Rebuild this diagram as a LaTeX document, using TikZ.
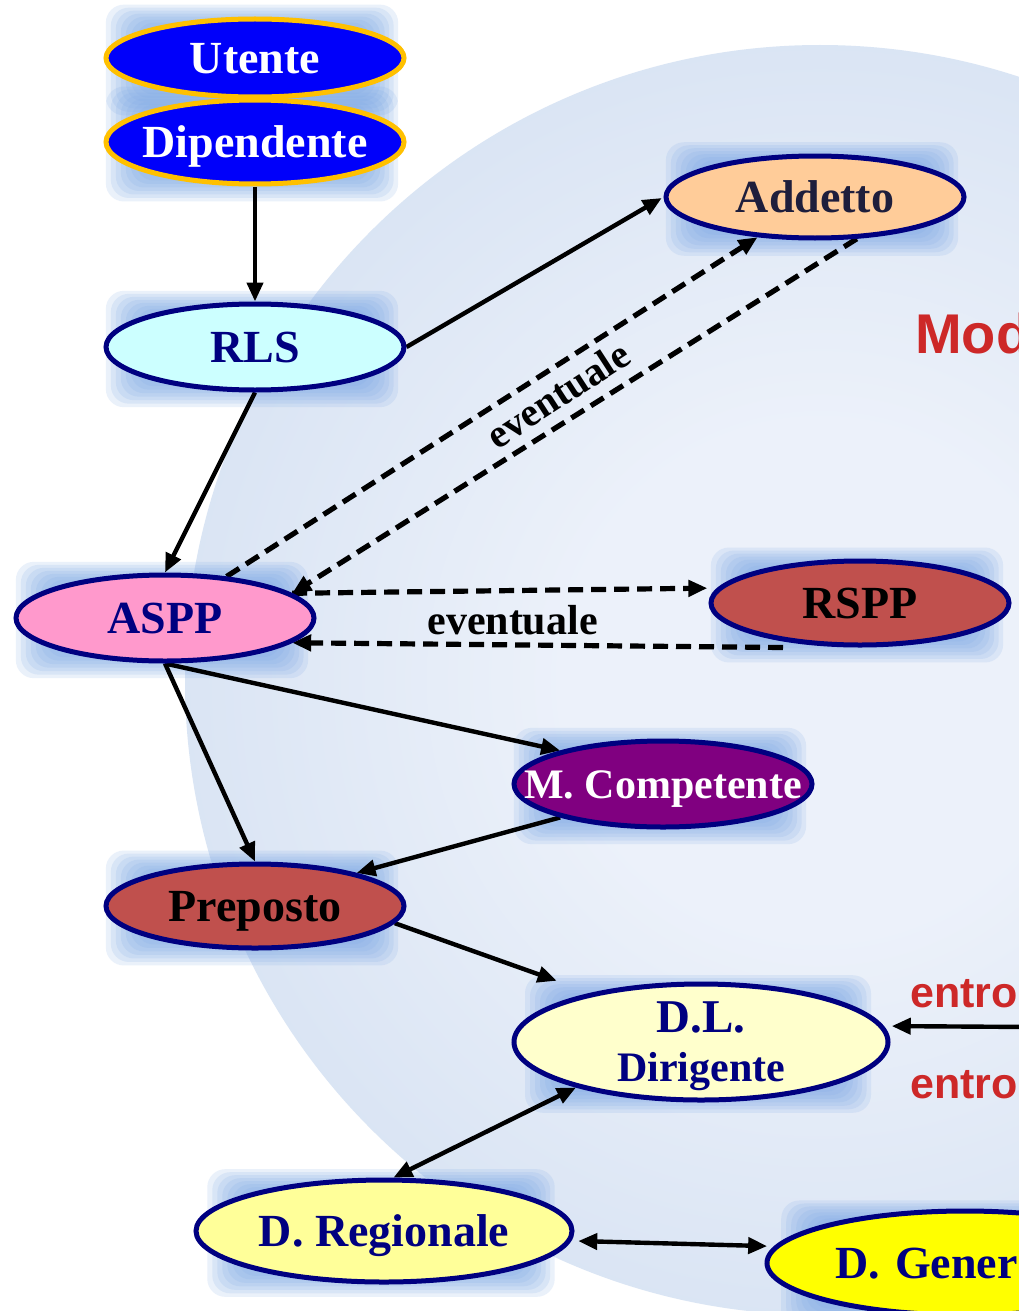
\documentclass[tikz,border=0pt]{standalone}
\usepackage{fontspec}
\setmainfont{Liberation Serif}
\newfontfamily\sansbold{Liberation Sans}
\usetikzlibrary{shapes.geometric,arrows.meta,calc}
\pgfdeclarelayer{bgl}\pgfdeclarelayer{glowl}\pgfdeclarelayer{edgel}
\pgfsetlayers{bgl,glowl,edgel,main}
\definecolor{navyb}{RGB}{0,0,128}
\definecolor{goldb}{RGB}{255,192,0}
\definecolor{utblue}{RGB}{0,0,250}
\definecolor{addfill}{RGB}{255,204,153}
\definecolor{addtext}{RGB}{30,30,60}
\definecolor{rlsfill}{RGB}{204,255,255}
\definecolor{asppfill}{RGB}{255,153,204}
\definecolor{rsppfill}{RGB}{192,80,77}
\definecolor{mcfill}{RGB}{128,0,128}
\definecolor{dlfill}{RGB}{255,255,204}
\definecolor{dregfill}{RGB}{255,255,153}
\definecolor{dgenfill}{RGB}{255,255,0}
\definecolor{glowc}{RGB}{125,168,230}
\definecolor{bgin}{RGB}{236,241,250}
\definecolor{bgmid}{RGB}{210,223,241}
\definecolor{bgout}{RGB}{194,212,237}
\definecolor{modred}{RGB}{205,40,40}
\pgfdeclareradialshading{bgcirc}{\pgfpoint{0bp}{0bp}}{color(0bp)=(bgin); color(10bp)=(bgin); color(32bp)=(bgmid); color(43bp)=(bgout); color(45bp)=(bgout); color(50bp)=(white)}
\newcommand\glowat[1]{%
  \foreach \k in {0,...,7}{%
    \fill[glowc,opacity=0.16,rounded corners=18pt]
      ($(#1.north west)+(-42+5*\k,-24+3*\k)$) rectangle ($(#1.south east)+(36-4.5*\k,28-3.5*\k)$);}}
\tikzset{
  base/.style={ellipse, draw=navyb, line width=5pt, inner sep=0pt, inner xsep=-45pt,
    minimum width=298pt, minimum height=84pt,
    font=\bfseries\fontsize{46}{50}\selectfont},
  one/.style={base, text height=31pt, text depth=0pt},
  arr/.style={-{Triangle[length=19pt,width=16pt]}, line width=4.4pt},
  barr/.style={{Triangle[length=19pt,width=16pt]}-{Triangle[length=19pt,width=16pt]}, line width=4.4pt},
  darr/.style={-{Triangle[length=19pt,width=16pt]}, line width=5.2pt, dash pattern=on 15pt off 8pt},
  lbl/.style={font=\bfseries\fontsize{42}{44}\selectfont, inner sep=0pt},
  redtxt/.style={text=modred, inner sep=0pt, anchor=base west},
}
\begin{document}
\begin{tikzpicture}[x=1pt,y=-1pt]
\useasboundingbox (0,0) rectangle (1019,1311);
\begin{pgfonlayer}{bgl}
  \fill[white] (0,0) rectangle (1019,1311);
  \shade[shading=bgcirc] (820,680) circle[radius=635];
\end{pgfonlayer}

% nodes
\node[one, draw=goldb, fill=utblue, text=white, minimum height=78pt] (Ut) at (255,58) {Utente};
\node[one, draw=goldb, fill=utblue, text=white] (Dip) at (255,142) {Dipendente};
\node[one, fill=addfill, text=addtext, minimum height=82pt] (Add) at (815,197) {Addetto};
\node[one, fill=rlsfill, text=navyb, minimum height=86pt] (RLS) at (255,347) {RLS};
\node[one, fill=asppfill, text=navyb, minimum height=86pt] (ASPP) at (165,618) {ASPP};
\node[one, fill=rsppfill, text=black] (RSPP) at (860,603) {RSPP};
\node[one, fill=mcfill, text=white, minimum height=86pt, text height=28pt,
      font=\bfseries\fontsize{42}{46}\selectfont] (MC) at (663,784) {M. Competente};
\node[one, fill=rsppfill, text=black] (Prep) at (255,906) {Preposto};
\node[base, fill=dlfill, text=navyb, minimum width=374pt, minimum height=116pt,
      align=center, text depth=-3pt] (DL) at (701,1042)
      {{\fontsize{47}{54}\selectfont D.L.}\\[-1pt]{\fontsize{42}{54}\selectfont Dirigente}};
\node[one, fill=dregfill, text=navyb, minimum width=376pt, minimum height=102pt] (DReg) at (384,1231) {D. Regionale};
\node[one, fill=dgenfill, text=navyb, minimum width=396pt, minimum height=104pt,
      text width=260pt, align=left] (DGen) at (965,1263) {D. Gener};

\node[redtxt, font=\sansbold\bfseries\fontsize{56}{60}\selectfont] (mod) at (915,353) {Mod};
\node[redtxt, font=\sansbold\bfseries\fontsize{43}{46}\selectfont] (en1) at (910,1007) {entro};
\node[redtxt, font=\sansbold\bfseries\fontsize{43}{46}\selectfont] (en2) at (910,1098) {entro};

\begin{pgfonlayer}{glowl}
  \glowat{Ut}\glowat{Dip}\glowat{Add}\glowat{RLS}\glowat{ASPP}\glowat{RSPP}
  \glowat{MC}\glowat{Prep}\glowat{DL}\glowat{DReg}\glowat{DGen}
\end{pgfonlayer}

\begin{pgfonlayer}{edgel}
  \draw[arr] (Dip.south) -- (RLS.north);
  \draw[arr, shorten >=2pt] (RLS.east) -- (Add.west);
  \draw[arr] (RLS.south) -- (ASPP.north);
  \draw[darr] (ASPP.34) -- (Add.215);
  \draw[darr] (Add.-45) -- (ASPP.11);
  \node[lbl, rotate=33, font=\bfseries\fontsize{40}{44}\selectfont, text height=19pt, text depth=0pt] (ev1) at (560,398) {eventuale};
  \draw[darr, shorten >=10pt] (ASPP.11) -- (RSPP.174);
  \coordinate (rb) at ($(RSPP.south)+(-77,0)$);
  \draw[darr] (rb) -- (ASPP.-11);
  \node[lbl, anchor=base] (ev2) at ($(ASPP.east)!0.5!(RSPP.west)+(0,24)$) {eventuale};
  \draw[arr] (ASPP.south) -- (MC.162);
  \draw[arr] (ASPP.south) -- (Prep.north);
  \draw[arr] (MC.198) -- (Prep.18);
  \draw[arr, shorten >=36pt] (Prep.-7) -- (DL.156);
  \draw[barr] (DL.200) -- (DReg.80);
  \draw[barr, shorten <=7pt, shorten >=7pt] (DReg.-3) -- (DGen.175);
  \coordinate (rin) at (1030,1027);
  \draw[arr, shorten >=8pt] (rin) -- (DL.5);
\end{pgfonlayer}
\end{tikzpicture}
\end{document}
